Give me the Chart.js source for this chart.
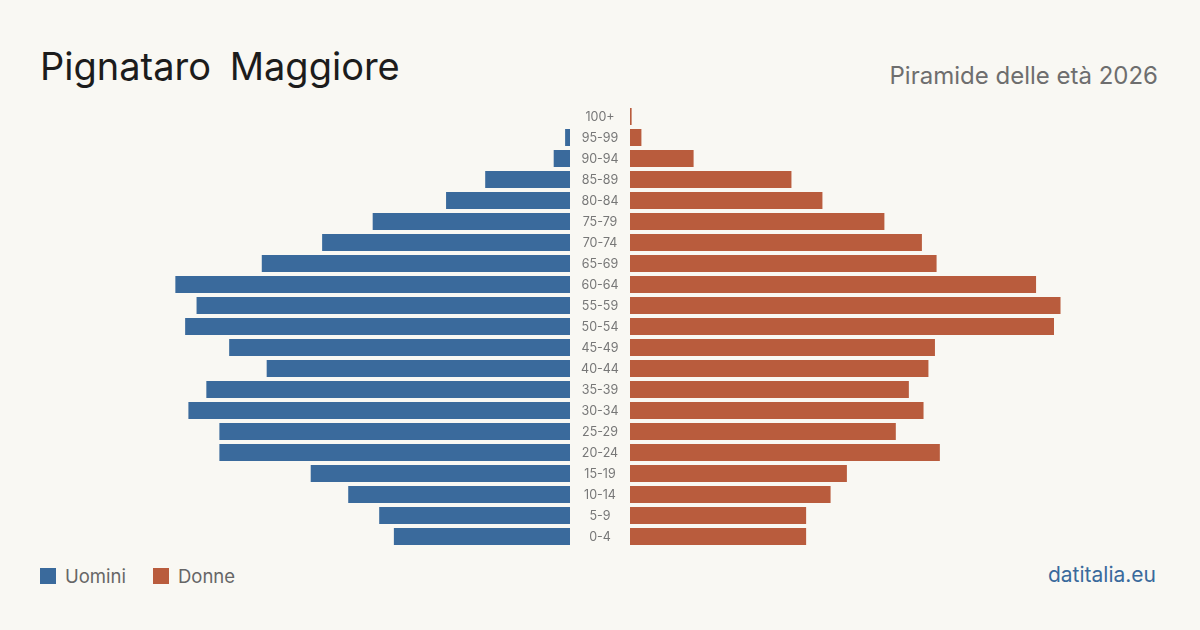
<!DOCTYPE html>
<html><head><meta charset="utf-8">
<script src="https://cdn.jsdelivr.net/npm/chart.js@4/dist/chart.umd.min.js"></script>
<style>
html,body{margin:0;padding:0;background:#f9f8f3;}
body{width:1200px;height:630px;position:relative;overflow:hidden;font-family:Inter,"Noto Sans",sans-serif;}
#title{position:absolute;left:40px;top:42px;font-size:38px;color:#1c1c1c;line-height:48px;word-spacing:8px;}
#sub{position:absolute;right:42px;top:60px;font-size:24px;color:#6e6e6e;line-height:32px;}
#leg{position:absolute;left:40px;top:564px;font-size:18.5px;color:#666;line-height:24px;display:flex;align-items:center;}
.sw{display:inline-block;width:16px;height:16px;margin-right:9px;}
#src{position:absolute;right:44px;top:561px;font-size:21px;color:#3a6a9c;line-height:28px;}
#lw{position:absolute;left:40px;top:106px;width:530px;height:441px;}
#rw{position:absolute;left:570px;top:106px;width:590px;height:441px;}
</style></head><body>
<div id="title">Pignataro Maggiore</div>
<div id="sub">Piramide delle età 2026</div>
<div id="lw"><canvas id="cl"></canvas></div>
<div id="rw"><canvas id="cr"></canvas></div>
<div id="leg"><span class="sw" style="background:#3a6a9c"></span>Uomini<span class="sw" style="background:#b95c3d;margin-left:27px"></span>Donne</div>
<div id="src">datitalia.eu</div>
<script>
const ageGroups = ["0-4","5-9","10-14","15-19","20-24","25-29","30-34","35-39","40-44","45-49","50-54","55-59","60-64","65-69","70-74","75-79","80-84","85-89","90-94","95-99","100+"];
const men   = [108,117,136,159,215,215,234,223,186,209,236,229,242,189,152,121,76,52,10,3,0];
const women = [108,108,123,133,190,163,180,171,183,187,260,264,249,188,179,156,118,99,39,7,1];
const maxValue = 325;

const labels = ageGroups.slice().reverse();
const menR = men.slice().reverse();
const womenR = women.slice().reverse();
const blue = "#3a6a9c", orange = "#b95c3d";

Chart.defaults.font.family = "Inter, 'Noto Sans', sans-serif";

const centerLabels = {
  id: 'centerLabels',
  afterDatasetsDraw(chart) {
    const {ctx, chartArea, scales} = chart;
    ctx.save();
    ctx.fillStyle = '#777';
    ctx.font = "12.5px Inter, 'Noto Sans', sans-serif";
    ctx.textAlign = 'center';
    ctx.textBaseline = 'middle';
    chart.data.labels.forEach((l, i) => {
      ctx.fillText(l, chartArea.left - 30, scales.y.getPixelForValue(i) + 0.5);
    });
    ctx.restore();
  }
};

const common = {
  indexAxis: 'y', responsive: true, maintainAspectRatio: false, animation: false,
  plugins: {legend: {display: false}, tooltip: {enabled: false}}
};
new Chart(document.getElementById('cl'), {
  type: 'bar',
  data: {labels, datasets: [{data: menR, backgroundColor: blue, barPercentage: 0.81, categoryPercentage: 1}]},
  options: Object.assign({}, common, {
    layout: {padding: 0},
    scales: {
      x: {display: false, min: 0, max: maxValue, reverse: true},
      y: {display: false}
    }
  })
});
new Chart(document.getElementById('cr'), {
  type: 'bar',
  data: {labels, datasets: [{data: womenR, backgroundColor: orange, barPercentage: 0.81, categoryPercentage: 1}]},
  options: Object.assign({}, common, {
    layout: {padding: {left: 60, right: 0, top: 0, bottom: 0}},
    scales: {
      x: {display: false, min: 0, max: maxValue},
      y: {display: false}
    }
  }),
  plugins: [centerLabels]
});
</script>
</body></html>
